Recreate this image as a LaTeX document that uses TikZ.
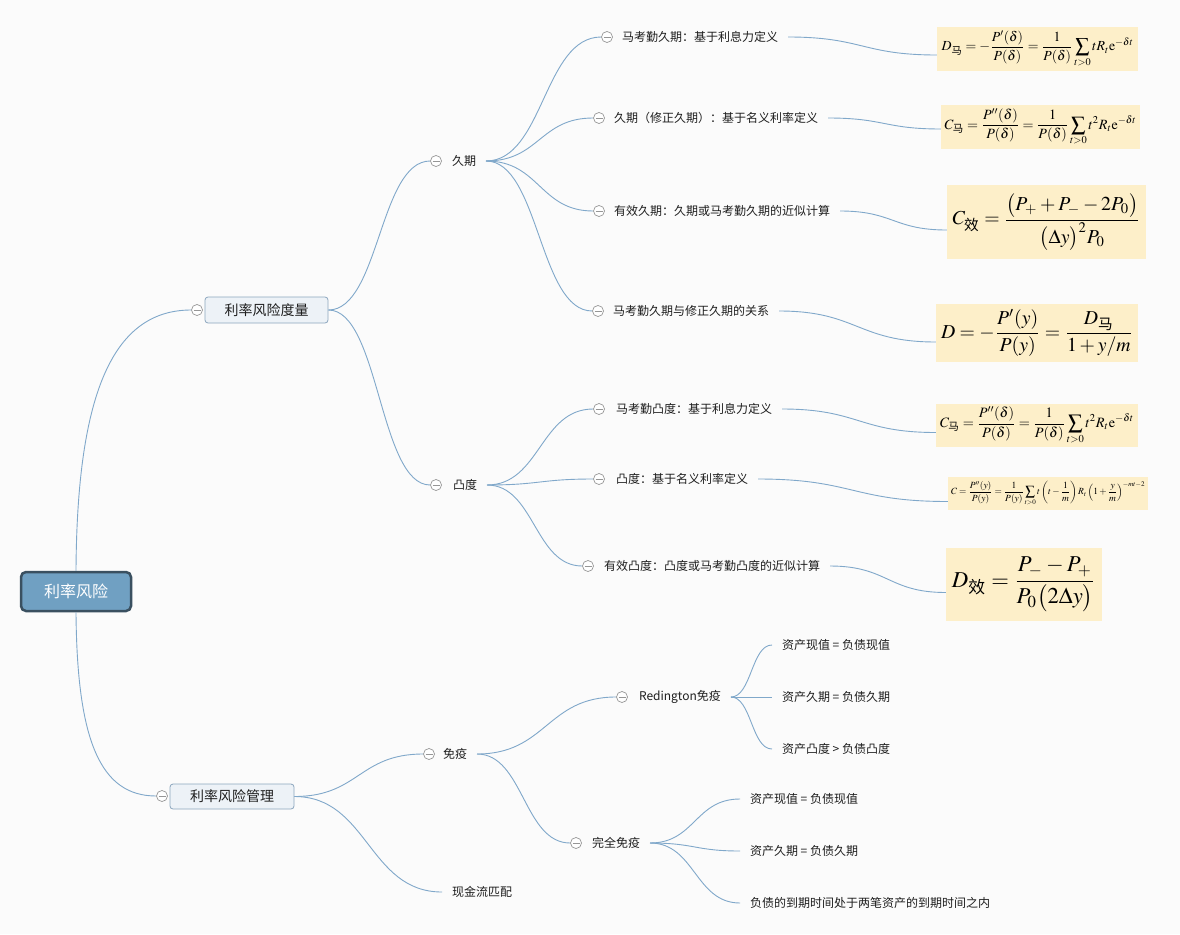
\documentclass[tikz,border=0pt]{standalone}
\usepackage{amsmath}
\usepackage{mathptmx}
\usepackage{fontspec}
\newfontfamily\cjk{Noto Sans CJK SC}
\usepackage{graphicx}
\usetikzlibrary{calc}
\definecolor{bg}{RGB}{251,251,251}
\definecolor{lnc}{RGB}{128,168,202}
\definecolor{txt}{RGB}{30,30,30}
\definecolor{rootf}{RGB}{112,160,194}
\definecolor{rootb}{RGB}{58,80,96}
\definecolor{lonef}{RGB}{237,242,247}
\definecolor{loneb}{RGB}{140,166,190}
\definecolor{fbox}{RGB}{253,239,201}
\definecolor{mk}{RGB}{150,150,150}
\tikzset{
  conn/.style={draw=lnc, line width=0.9pt},
  marker/.style={circle, draw=mk, fill=white, minimum size=11pt, inner sep=0pt, line width=0.7pt,
    path picture={\draw[mk,line width=0.7pt] ([xshift=-3.5pt]path picture bounding box.center) -- ([xshift=3.5pt]path picture bounding box.center);}},
  lbl/.style={font=\cjk\fontsize{12}{14}\selectfont, text=txt, inner sep=0pt, outer xsep=10pt, anchor=west},
  rootbox/.style={rounded corners=5pt, draw=rootb, fill=rootf, line width=2.5pt, minimum width=110pt, minimum height=39pt, text=white, font=\cjk\fontsize{16}{18}\selectfont, inner sep=0pt},
  lonebox/.style={rounded corners=3pt, draw=loneb, fill=lonef, line width=0.8pt, minimum width=123pt, minimum height=26pt, text=txt, font=\cjk\fontsize{14}{16}\selectfont, inner sep=0pt},
  fnode/.style={fill=fbox, inner sep=0pt}
}
\newcommand\xconn[3][]{\draw[conn,#1] let \p1=(#2), \p2=(#3) in (\p1) .. controls ({0.5*(\x1+\x2)},\y1) and ({0.5*(\x1+\x2)},\y2) .. (\p2);}
\newcommand\zh[1]{\text{\cjk #1}}
\begin{document}
\begin{tikzpicture}[x=1pt,y=-1pt]
\path[fill=bg] (0,0) rectangle (1180,934);

% root and level 1
\node[rootbox] (root) at (76,591.5) {利率风险};
\node[lonebox] (meas) at (266.5,310) {利率风险度量};
\node[marker] (measm) at (197,310) {};
\node[lonebox, minimum width=124pt, minimum height=25pt] (mgmt) at (232,796.5) {利率风险管理};
\node[marker] (mgmtm) at (162,796) {};

\draw[conn] (root.north) .. controls (77,400) and (110,310) .. (measm.west);
\draw[conn] (root.south) .. controls (77,740) and (100,796) .. (mgmtm.west);

% level 2 (measure)
\node[marker] (jqm) at (436,161) {};
\node[lbl] (jq) at (442,161) {久期};
\node[marker] (tdm) at (436,485) {};
\node[lbl] (td) at (443,485) {凸度};
\xconn{meas.east}{jqm.west}
\xconn{meas.east}{tdm.west}

% duration children
\node[marker] (c1m) at (607,37) {};
\node[lbl] (c1) at (612,37) {马考勤久期：基于利息力定义};
\node[marker] (c2m) at (599,118) {};
\node[lbl] (c2) at (604,118) {久期（修正久期）：基于名义利率定义};
\node[marker] (c3m) at (599,211) {};
\node[lbl] (c3) at (604,211) {有效久期：久期或马考勤久期的近似计算};
\node[marker] (c4m) at (598,311) {};
\node[lbl] (c4) at (603,311) {马考勤久期与修正久期的关系};
\xconn{jq.east}{c1m.west}
\xconn{jq.east}{c2m.west}
\xconn{jq.east}{c3m.west}
\xconn{jq.east}{c4m.west}

% convexity children
\node[marker] (c5m) at (599,409) {};
\node[lbl] (c5) at (606,409) {马考勤凸度：基于利息力定义};
\node[marker] (c6m) at (599,479) {};
\node[lbl] (c6) at (606,479) {凸度：基于名义利率定义};
\node[marker] (c7m) at (588,566) {};
\node[lbl] (c7) at (594,566) {有效凸度：凸度或马考勤凸度的近似计算};
\xconn{td.east}{c5m.west}
\xconn{td.east}{c6m.west}
\xconn{td.east}{c7m.west}

% formulas
\node[fnode, minimum width=201pt, minimum height=44pt] (f1) at (1037.5,49)
  {\resizebox{192pt}{!}{$\displaystyle D_{\zh{马}}=-\frac{P'(\delta)}{P(\delta)}=\frac{1}{P(\delta)}\sum_{t>0}tR_t\mathrm{e}^{-\delta t}$}};
\node[fnode, minimum width=199pt, minimum height=44pt] (f2) at (1040.5,127)
  {\resizebox{192pt}{!}{$\displaystyle C_{\zh{马}}=\frac{P''(\delta)}{P(\delta)}=\frac{1}{P(\delta)}\sum_{t>0}t^2R_t\mathrm{e}^{-\delta t}$}};
\node[fnode, minimum width=199pt, minimum height=74pt] (f3) at (1046.5,222)
  {\resizebox{188pt}{!}{$\displaystyle C_{\zh{效}}=\frac{\bigl(P_{+}+P_{-}-2P_0\bigr)}{\bigl(\Delta y\bigr)^2P_0}$}};
\node[fnode, minimum width=202pt, minimum height=58pt] (f4) at (1037,333)
  {\resizebox{192pt}{!}{$\displaystyle D=-\frac{P'(y)}{P(y)}=\frac{D_{\zh{马}}}{1+y/m}$}};
\node[fnode, minimum width=202pt, minimum height=43pt] (f5) at (1037,425.5)
  {\resizebox{194pt}{!}{$\displaystyle C_{\zh{马}}=\frac{P''(\delta)}{P(\delta)}=\frac{1}{P(\delta)}\sum_{t>0}t^2R_t\mathrm{e}^{-\delta t}$}};
\node[fnode, minimum width=200pt, minimum height=33pt] (f6) at (1048,493.5)
  {\resizebox{194pt}{!}{$\displaystyle C=\frac{P''(y)}{P(y)}=\frac{1}{P(y)}\sum_{t>0}t\left(t-\frac{1}{m}\right)R_t\left(1+\frac{y}{m}\right)^{-mt-2}$}};
\node[fnode, minimum width=156pt, minimum height=73pt] (f7) at (1024,584.5)
  {\resizebox{144pt}{!}{$\displaystyle D_{\zh{效}}=\frac{P_{-}-P_{+}}{P_0\bigl(2\Delta y\bigr)}$}};
\xconn{c1.east}{[yshift=-6pt]f1.west}
\xconn{c2.east}{[yshift=-2pt]f2.west}
\xconn{c3.east}{[yshift=-8pt]f3.west}
\xconn{c4.east}{[yshift=-9pt]f4.west}
\xconn{c5.east}{[yshift=-7pt]f5.west}
\xconn{c6.east}{[yshift=-8pt]f6.west}
\xconn{c7.east}{[yshift=-8pt]f7.west}

% management
\node[marker] (mym) at (429,754) {};
\node[lbl] (my) at (433,754) {免疫};
\node[lbl] (xjl) at (442,892) {现金流匹配};
\xconn{mgmt.east}{mym.west}
\xconn{mgmt.east}{xjl.west}

\node[marker] (rdm) at (622,697) {};
\node[lbl] (rd) at (629,697) {Redington免疫};
\node[marker] (wqm) at (576,843) {};
\node[lbl] (wq) at (582,843) {完全免疫};
\xconn{my.east}{rdm.west}
\xconn{my.east}{wqm.west}

\node[lbl] (r1) at (772,645) {资产现值 = 负债现值};
\node[lbl] (r2) at (772,697) {资产久期 = 负债久期};
\node[lbl] (r3) at (772,749) {资产凸度 > 负债凸度};
\xconn{rd.east}{r1.west}
\xconn{rd.east}{r2.west}
\xconn{rd.east}{r3.west}

\node[lbl] (w1) at (740,799) {资产现值 = 负债现值};
\node[lbl] (w2) at (740,851) {资产久期 = 负债久期};
\node[lbl] (w3) at (740,903) {负债的到期时间处于两笔资产的到期时间之内};
\xconn{wq.east}{w1.west}
\xconn{wq.east}{w2.west}
\xconn{wq.east}{w3.west}
\end{tikzpicture}
\end{document}
